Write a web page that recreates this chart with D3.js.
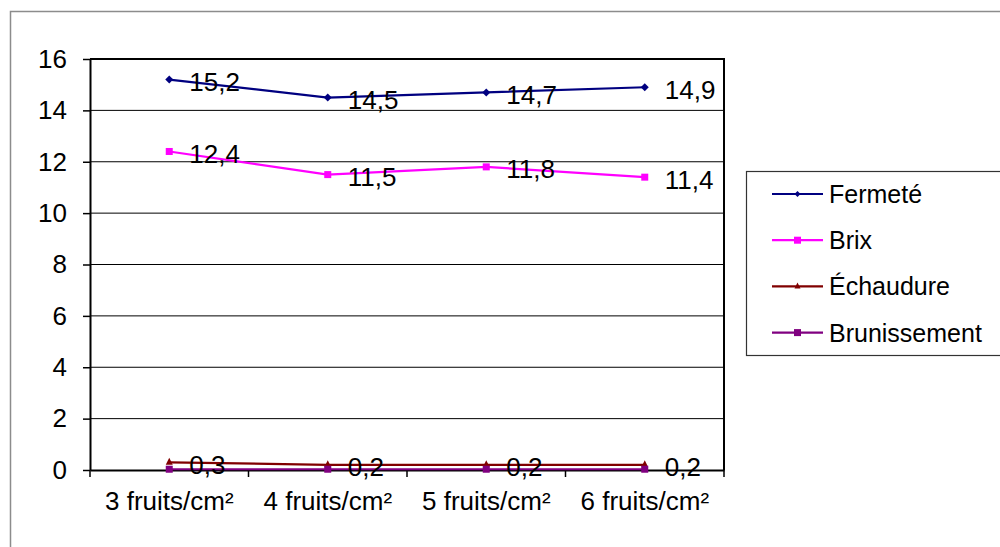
<!DOCTYPE html>
<html>
<head>
<meta charset="utf-8">
<script src="https://cdn.jsdelivr.net/npm/d3@7"></script>
<style>
  html, body { margin: 0; padding: 0; background: #fff; }
  svg { display: block; font-family: "Liberation Sans", Arial, sans-serif; }
</style>
</head>
<body>
<svg id="chart" width="1000" height="547"></svg>
<script>
// Densité de fruits et qualité
const categories = ["3 fruits/cm²", "4 fruits/cm²", "5 fruits/cm²", "6 fruits/cm²"];
const fermete = [15.2, 14.5, 14.7, 14.9];
const brix = [12.4, 11.5, 11.8, 11.4];
const echaudure = [0.3, 0.2, 0.2, 0.2];
const brunissement = [0.03, 0.03, 0.03, 0.03];
const yTicks = [0, 2, 4, 6, 8, 10, 12, 14, 16];

const series = [
  { name: "Fermeté", values: fermete, color: "#000080", marker: "diamond", labels: true },
  { name: "Brix", values: brix, color: "#FF00FF", marker: "square", labels: true },
  { name: "Échaudure", values: echaudure, color: "#800000", marker: "triangle", labels: true },
  { name: "Brunissement", values: brunissement, color: "#800080", marker: "square", labels: false }
];

const fmt = v => String(v).replace(".", ",");

const svg = d3.select("#chart");

// outer chart frame
svg.append("rect")
  .attr("x", 10.5).attr("y", 11.5)
  .attr("width", 1000).attr("height", 600)
  .attr("fill", "#fff").attr("stroke", "#8c8c8c").attr("stroke-width", 1.5);

const plot = { left: 90, right: 724, top: 59, bottom: 470 };

const x = d3.scaleBand().domain(categories).range([plot.left, plot.right]).padding(0);
const y = d3.scaleLinear().domain([0, 16]).range([plot.bottom, plot.top]);
const cx = c => x(c) + x.bandwidth() / 2;

// horizontal gridlines
svg.append("g")
  .selectAll("line")
  .data(yTicks.filter(t => t > 0 && t < 16))
  .join("line")
  .attr("x1", plot.left).attr("x2", plot.right)
  .attr("y1", d => y(d)).attr("y2", d => y(d))
  .attr("stroke", "#000").attr("stroke-width", 1);

// plot area border (top & right)
svg.append("path")
  .attr("d", `M${plot.left},${plot.top}H${plot.right}V${plot.bottom}`)
  .attr("fill", "none").attr("stroke", "#000").attr("stroke-width", 2);

// y axis
const yAxis = svg.append("g")
  .attr("transform", `translate(${plot.left},0)`)
  .call(d3.axisLeft(y).tickValues(yTicks).tickSize(7).tickSizeOuter(0).tickPadding(16));
yAxis.select(".domain").attr("stroke", "#000").attr("stroke-width", 2);
yAxis.selectAll(".tick line").attr("stroke", "#000").attr("stroke-width", 1.5);
yAxis.selectAll(".tick text")
  .attr("font-size", 26).attr("fill", "#000")
  .attr("font-family", "'Liberation Sans', Arial, sans-serif");

// x axis
const xAxis = svg.append("g")
  .attr("transform", `translate(0,${plot.bottom})`)
  .call(d3.axisBottom(x).tickSize(0).tickSizeOuter(0).tickPadding(22));
xAxis.select(".domain").attr("stroke", "#000").attr("stroke-width", 2);
xAxis.selectAll(".tick text")
  .attr("font-size", 26).attr("fill", "#000")
  .attr("font-family", "'Liberation Sans', Arial, sans-serif");
// category boundary tick marks
svg.append("g")
  .selectAll("line")
  .data(categories.map(c => x(c)).concat([x(categories[categories.length - 1]) + x.bandwidth()]))
  .join("line")
  .attr("x1", d => d).attr("x2", d => d)
  .attr("y1", plot.bottom).attr("y2", plot.bottom + 7)
  .attr("stroke", "#000").attr("stroke-width", 1.5);

// marker drawing helper
function marker(g, type, color, px, py, s) {
  if (type === "diamond") {
    g.append("path")
      .attr("d", `M${px},${py - s}L${px + s},${py}L${px},${py + s}L${px - s},${py}Z`)
      .attr("fill", color);
  } else if (type === "square") {
    g.append("rect")
      .attr("x", px - s).attr("y", py - s).attr("width", 2 * s).attr("height", 2 * s)
      .attr("fill", color);
  } else if (type === "triangle") {
    g.append("path")
      .attr("d", `M${px},${py - s - 1}L${px + s},${py + s - 1}L${px - s},${py + s - 1}Z`)
      .attr("fill", color);
  }
}
const markerSize = { diamond: 4, square: 3.5, triangle: 3.5 };

const line = d3.line().x((d, i) => cx(categories[i])).y(d => y(d));

const seriesG = svg.append("g");
series.forEach(s => {
  const g = seriesG.append("g");
  g.append("path")
    .attr("d", line(s.values))
    .attr("fill", "none").attr("stroke", s.color).attr("stroke-width", 2.2);
  s.values.forEach((v, i) => marker(g, s.marker, s.color, cx(categories[i]), y(v), markerSize[s.marker]));
});

// data labels
series.filter(s => s.labels).forEach(s => {
  svg.append("g")
    .selectAll("text")
    .data(s.values)
    .join("text")
    .attr("x", (d, i) => cx(categories[i]) + 20)
    .attr("y", d => y(d) + 2)
    .attr("dy", "0.36em")
    .attr("font-size", 26)
    .attr("fill", "#000")
    .text(d => fmt(d));
});

// legend
const legend = svg.append("g");
legend.append("rect")
  .attr("x", 746.5).attr("y", 171.5)
  .attr("width", 300).attr("height", 184)
  .attr("fill", "#fff").attr("stroke", "#333").attr("stroke-width", 1.2);
series.forEach((s, i) => {
  const ly = 194 + i * 46.2;
  const g = legend.append("g");
  g.append("line")
    .attr("x1", 772).attr("x2", 823)
    .attr("y1", ly).attr("y2", ly)
    .attr("stroke", s.color).attr("stroke-width", 2.2);
  marker(g, s.marker, s.color, 797.5, ly, s.marker === "square" ? 3.5 : 3);
  g.append("text")
    .attr("x", 829).attr("y", ly)
    .attr("dy", "0.36em")
    .attr("font-size", 25)
    .attr("fill", "#000")
    .text(s.name);
});
</script>
</body>
</html>
